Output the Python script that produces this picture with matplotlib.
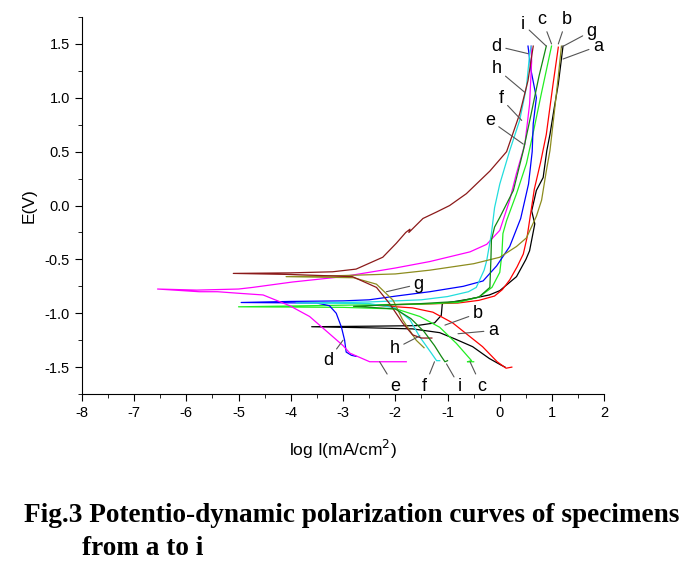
import matplotlib
matplotlib.use("Agg")
import matplotlib.pyplot as plt
from matplotlib.ticker import MultipleLocator

plt.rcParams["font.family"] = ["Liberation Sans", "DejaVu Sans"]
plt.rcParams["axes.unicode_minus"] = False

# --- curves: log I (mA/cm2) vs E (V), cathodic end -> Ecorr -> anodic end ---
a_x = [0.10, 0.02, -0.20, -0.52, -0.85, -1.15, -1.67, -2.50, -3.60, -2.50, -1.60, -1.25, -1.12, -1.10,
       -0.60, -0.20, 0.00, 0.32, 0.50, 0.57, 0.67, 0.61, 0.70, 0.83, 0.90, 0.96, 1.04, 1.12, 1.21]
a_y = [-1.50, -1.48, -1.42, -1.31, -1.24, -1.18, -1.145, -1.135, -1.125, -1.12, -1.115, -1.09, -1.02, -0.91,
       -0.87, -0.83, -0.79, -0.66, -0.50, -0.42, -0.17, -0.05, 0.14, 0.26, 0.51, 0.66, 0.90, 1.13, 1.48]

b_x = [0.23, 0.12, -0.05, -0.33, -0.90, -1.28, -1.67, -1.98, -2.40, -1.50, -0.80, -0.40, -0.10, 0.05,
       0.19, 0.33, 0.45, 0.52, 0.57, 0.62, 0.66, 0.78, 0.89, 1.02, 1.12]
b_y = [-1.50, -1.51, -1.45, -1.31, -1.09, -0.99, -0.95, -0.94, -0.925, -0.915, -0.905, -0.88, -0.84, -0.78,
       -0.69, -0.57, -0.45, -0.30, -0.14, 0.02, 0.15, 0.40, 0.66, 1.13, 1.47]

c_x = [-0.50, -0.62, -0.54, -0.83, -1.15, -1.53, -1.98, -3.00, -5.00, -3.00, -1.50, -0.80, -0.40, -0.15,
       0.00, 0.04, 0.06, 0.13, 0.32, 0.51, 0.65, 0.80, 0.99]
c_y = [-1.45, -1.45, -1.44, -1.28, -1.13, -1.03, -0.96, -0.945, -0.94, -0.925, -0.915, -0.90, -0.85, -0.76,
       -0.62, -0.45, -0.26, -0.14, 0.11, 0.39, 0.70, 1.05, 1.48]

d_x = [-2.75, -2.84, -2.94, -2.97, -3.03, -3.13, -3.26, -3.50, -4.95, -4.00, -3.00, -2.50, -1.98, -1.34,
       -0.70, -0.32, -0.06, 0.19, 0.40, 0.55, 0.62, 0.64, 0.70, 0.60, 0.54]
d_y = [-1.40, -1.39, -1.36, -1.25, -1.13, -1.00, -0.93, -0.905, -0.90, -0.89, -0.885, -0.875, -0.84, -0.80,
       -0.75, -0.70, -0.56, -0.38, -0.12, 0.20, 0.50, 0.76, 1.00, 1.25, 1.48]

e_x = [-1.79, -2.49, -2.87, -3.00, -3.26, -3.64, -4.02, -4.53, -4.98, -5.40, -5.75, -6.55, -5.80, -5.00,
       -4.73, -3.97, -3.00, -2.00, -1.34, -0.57, -0.25, 0.00, 0.19, 0.32, 0.48, 0.57, 0.61, 0.60]
e_y = [-1.45, -1.45, -1.37, -1.30, -1.19, -1.03, -0.93, -0.83, -0.815, -0.80, -0.80, -0.775, -0.785, -0.775,
       -0.76, -0.71, -0.66, -0.58, -0.52, -0.43, -0.36, -0.23, 0.05, 0.30, 0.57, 0.94, 1.34, 1.48]

f_x = [-1.15, -1.21, -1.31, -1.53, -1.72, -2.00, -2.50, -3.90, -2.50, -1.50, -1.00, -0.60, -0.45, -0.30,
       -0.25, -0.16, -0.10, 0.00, 0.19, 0.38, 0.51, 0.57, 0.60]
f_y = [-1.44, -1.44, -1.37, -1.22, -1.06, -0.95, -0.91, -0.905, -0.895, -0.875, -0.845, -0.80, -0.76, -0.60,
       -0.51, -0.26, -0.02, 0.20, 0.51, 0.79, 1.10, 1.40, 1.48]

g_x = [-1.45, -1.60, -1.86, -2.04, -2.36, -2.80, -4.09, -3.00, -2.00, -1.34, -0.50, 0.00, 0.32, 0.51,
       0.70, 0.80, 0.89, 0.96, 1.04, 1.12, 1.18]
g_y = [-1.32, -1.25, -1.06, -0.88, -0.73, -0.67, -0.66, -0.65, -0.635, -0.60, -0.54, -0.48, -0.38, -0.30,
       -0.10, 0.05, 0.32, 0.51, 0.85, 1.20, 1.48]

h_x = [-1.30, -1.50, -1.67, -1.86, -2.11, -2.36, -2.82, -4.00, -5.10, -4.00, -3.20, -2.75, -2.24, -1.98,
       -1.80, -1.72, -1.74, -1.47, -1.21, -0.96, -0.64, -0.19, 0.13, 0.38, 0.54, 0.64]
h_y = [-1.23, -1.23, -1.20, -1.09, -0.91, -0.76, -0.66, -0.64, -0.63, -0.625, -0.615, -0.59, -0.48, -0.35,
       -0.25, -0.22, -0.25, -0.12, -0.06, 0.00, 0.11, 0.32, 0.50, 0.85, 1.16, 1.48]

i_x = [-1.00, -1.05, -1.12, -1.25, -1.45, -1.70, -2.00, -2.80, -1.50, -0.80, -0.40, -0.19, -0.17, -0.16,
       -0.10, 0.00, 0.26, 0.45, 0.60, 0.75, 0.89]
i_y = [-1.44, -1.45, -1.40, -1.30, -1.17, -1.05, -0.96, -0.935, -0.91, -0.89, -0.85, -0.76, -0.50, -0.32,
       -0.20, -0.11, 0.14, 0.51, 0.85, 1.20, 1.48]

names = ["a", "b", "c", "d", "e", "f", "g", "h", "i"]
curves_x = [a_x, b_x, c_x, d_x, e_x, f_x, g_x, h_x, i_x]
curves_y = [a_y, b_y, c_y, d_y, e_y, f_y, g_y, h_y, i_y]
colors = ["#000000", "#ff0000", "#22ee22", "#0000ff", "#ff00ff", "#22dddd", "#8c8c1e", "#8b1a1a", "#118811"]

# label text position and the curve point it points to
upper_labels = {
    "a": ((1.88, 1.48), (1.21, 1.36)),
    "g": ((1.76, 1.62), (1.18, 1.47)),
    "b": ((1.28, 1.73), (1.12, 1.50)),
    "c": ((0.81, 1.73), (0.99, 1.50)),
    "i": ((0.45, 1.68), (0.89, 1.48)),
    "d": ((-0.06, 1.48), (0.54, 1.41)),
    "h": ((-0.06, 1.27), (0.48, 1.05)),
    "f": ((0.03, 0.99), (0.42, 0.79)),
    "e": ((-0.19, 0.79), (0.45, 0.57)),
}
lower_labels = {
    "g": ((-1.55, -0.73), (-2.17, -0.80)),
    "b": ((-0.42, -1.00), (-1.05, -1.11)),
    "a": ((-0.13, -1.16), (-0.80, -1.19)),
    "h": ((-2.01, -1.33), (-1.53, -1.21)),
    "d": ((-3.29, -1.44), (-3.00, -1.25)),
    "e": ((-2.01, -1.68), (-2.30, -1.45)),
    "f": ((-1.44, -1.68), (-1.25, -1.45)),
    "i": ((-0.77, -1.68), (-1.02, -1.47)),
    "c": ((-0.35, -1.68), (-0.57, -1.45)),
}

fig = plt.figure(figsize=(6.93, 5.67), dpi=100)
ax = fig.add_axes([0.118, 0.305, 0.754, 0.665])

for xs, ys, col in zip(curves_x, curves_y, colors):
    ax.plot(xs, ys, color=col, lw=0.9)

for labels in (upper_labels, lower_labels):
    for name, (txt, pt) in labels.items():
        ax.annotate(name, xy=pt, xytext=txt, ha="center", va="center", fontsize=13,
                    annotation_clip=False,
                    arrowprops=dict(arrowstyle="-", color="#555555", lw=0.8, shrinkA=1, shrinkB=0))

ax.set_xlim(-8, 2)
ax.set_ylim(-1.75, 1.75)
ax.xaxis.set_major_locator(MultipleLocator(1))
ax.xaxis.set_minor_locator(MultipleLocator(0.5))
ax.yaxis.set_major_locator(MultipleLocator(0.5))
ax.yaxis.set_minor_locator(MultipleLocator(0.25))
ax.yaxis.set_major_formatter(plt.FormatStrFormatter("%.1f"))
ax.tick_params(which="both", direction="out", labelsize=10.5)
ax.tick_params(which="major", length=5)
ax.tick_params(which="minor", length=3)
ax.spines["top"].set_visible(False)
ax.spines["right"].set_visible(False)
ax.set_xlabel("log I(mA/cm$^2$)", fontsize=12.5, labelpad=13)
ax.set_ylabel("E(V)", fontsize=12.5, labelpad=6)

fig.text(0.507, 0.090, "Fig.3 Potentio-dynamic polarization curves of specimens",
         ha="center", va="center", fontsize=19.6, fontweight="bold", family="Liberation Serif")
fig.text(0.118, 0.032, "from a to i", ha="left", va="center", fontsize=19.6,
         fontweight="bold", family="Liberation Serif")

fig.savefig("out.png", dpi=100)
